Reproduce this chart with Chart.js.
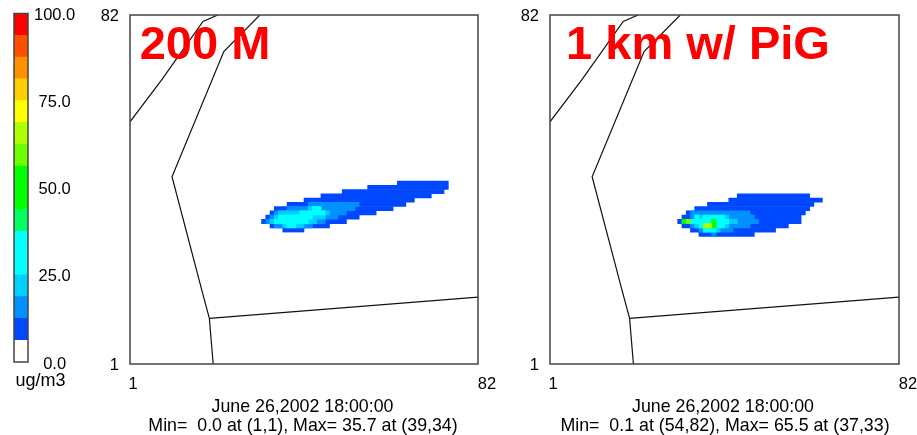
<!DOCTYPE html>
<html>
<head>
<meta charset="utf-8">
<script src="https://cdn.jsdelivr.net/npm/chart.js@4"></script>
<style>
  body { margin: 0; background: #fff; }
  canvas { position: absolute; top: 0; }
</style>
</head>
<body>
<canvas id="scaleBar" width="90" height="435" style="left:0"></canvas>
<canvas id="panel200" width="415" height="435" style="left:90px"></canvas>
<canvas id="panelPig" width="407" height="435" style="left:510px"></canvas>
<script>
// colour bar, bottom to top
const bandColors = ['#ffffff', '#0048ff', '#0090ff', '#00d0ff', '#00ffff', '#00ffff', '#00ff60', '#00ff00',
  '#00ff00', '#70ff00', '#b0ff00', '#ffff00', '#ffd000', '#ff9000', '#ff5000', '#ff0000'];
const bandSizes = [6.25, 6.25, 6.25, 6.25, 6.25, 6.25, 6.25, 6.25, 6.25, 6.25, 6.25, 6.25, 6.25, 6.25, 6.25, 6.25];
const scaleTicks = [0, 25, 50, 75, 100];
const scaleTickLabels = ['0.0', '25.0', '50.0', '75.0', '100.0'];
const gridTickLabels = ['1', '82'];

// grid cells as [band, row, first column, last column]
const plume200 = [
  [1, 43, 64, 75], [1, 42, 57, 75], [1, 41, 51, 74], [1, 40, 46, 71], [1, 39, 42, 67], [1, 38, 38, 65],
  [1, 37, 35, 62], [1, 36, 34, 58], [1, 35, 33, 54], [1, 34, 32, 51], [1, 33, 34, 47], [1, 32, 37, 41],
  [2, 38, 43, 54], [2, 37, 38, 53], [2, 36, 35, 51], [2, 35, 34, 49], [2, 34, 33, 46], [2, 33, 35, 43],
  [3, 37, 43, 45], [3, 36, 36, 47], [3, 35, 35, 46], [3, 34, 34, 44], [3, 33, 37, 41],
  [4, 37, 44, 45], [4, 36, 41, 46], [4, 35, 36, 43], [4, 34, 35, 42], [4, 33, 38, 39]
];
const plumePig = [
  [1, 40, 45, 61], [1, 39, 43, 64], [1, 38, 38, 62], [1, 37, 35, 61], [1, 36, 33, 60], [1, 35, 32, 59],
  [1, 34, 31, 59], [1, 33, 32, 56], [1, 32, 34, 53], [1, 31, 36, 48],
  [2, 36, 34, 47], [2, 35, 34, 48], [2, 34, 34, 49], [2, 33, 34, 47], [2, 32, 36, 43], [2, 31, 39, 39],
  [3, 35, 35, 42], [3, 34, 34, 44], [3, 33, 35, 42], [3, 32, 37, 40],
  [4, 35, 35, 35], [4, 35, 37, 41], [4, 34, 34, 42], [4, 33, 36, 41], [4, 32, 37, 39],
  [6, 34, 39, 39], [6, 33, 39, 39],
  [7, 34, 32, 32], [7, 34, 39, 39], [7, 33, 39, 39],
  [9, 34, 33, 33], [10, 33, 37, 38]
];

// map outlines in grid coordinates
const coastLine = [{x: 0.5, y: 57.4}, {x: 8, y: 67.3}, {x: 17.7, y: 81}, {x: 21.2, y: 82.5}];
const stateLine = [{x: 31.1, y: 82.5}, {x: 22.6, y: 73.9}, {x: 10.4, y: 44.5}, {x: 17.4, y: 17.9}, {x: 19.2, y: 11.2}, {x: 20.1, y: 0.5}];
const borderLine = [{x: 19.2, y: 11.2}, {x: 82.5, y: 16.2}];

// frame around the plot and the free text of each chart
const framePlugin = {
  id: 'frame',
  afterDraw(chart) {
    const a = chart.chartArea, ctx = chart.ctx;
    ctx.save();
    ctx.strokeStyle = '#444';
    ctx.lineWidth = 1.5;
    ctx.strokeRect(a.left, a.top, a.right - a.left, a.bottom - a.top);
    ctx.restore();
  }
};
const textPlugin = {
  id: 'panelText',
  afterDraw(chart, args, opts) {
    const ctx = chart.ctx;
    ctx.save();
    ctx.textAlign = 'center';
    ctx.textBaseline = 'middle';
    opts.items.forEach(t => {
      ctx.font = t.font;
      ctx.fillStyle = t.color || '#000';
      ctx.fillText(t.text, t.x, t.y);
    });
    ctx.restore();
  }
};

const labelFont = {family: '"Liberation Sans", Arial, sans-serif', size: 16.5};
const smallFont = '17.8px "Liberation Sans", Arial, sans-serif';
const titleFont = 'bold 47px "Liberation Sans", Arial, sans-serif';

// axis labels would otherwise push the plot area in
const noPad = s => { s.paddingTop = s.paddingBottom = s.paddingLeft = s.paddingRight = 0; };

const makePanel = (id, plume, rightPad, items) => {
  const usedBands = [...new Set(plume.map(c => c[0]))];
  const bars = usedBands.map(band => ({
    type: 'bar',
    indexAxis: 'y',
    order: 100 - band,
    backgroundColor: bandColors[band],
    borderWidth: 0,
    barPercentage: 1,
    categoryPercentage: 1,
    grouped: false,
    data: plume.filter(c => c[0] === band).map(c => ({y: c[1], x: [c[2] - 0.5, c[3] + 0.5]}))
  }));
  const lines = [coastLine, stateLine, borderLine].map(pts => ({
    type: 'scatter',
    indexAxis: 'x',
    order: 0,
    showLine: true,
    pointRadius: 0,
    borderColor: '#111',
    borderWidth: 1.2,
    data: pts
  }));
  const gridAxis = (tickValues, nudge, size) => ({
    type: 'linear',
    min: 0.5,
    max: 82.5,
    offset: false,
    grid: {display: false, offset: false, tickLength: 0},
    border: {display: false},
    afterBuildTicks: s => { s.ticks = tickValues.map(value => ({value})); },
    ticks: {
      autoSkip: false,
      maxRotation: 0,
      padding: 11,
      labelOffset: nudge,
      color: '#000',
      font: labelFont,
      callback: (v, i) => gridTickLabels[i]
    },
    afterFit: s => { noPad(s); size(s); }
  });
  return new Chart(document.getElementById(id), {
    type: 'bar',
    data: {datasets: lines.concat(bars)},
    plugins: [framePlugin, textPlugin],
    options: {
      responsive: false,
      animation: false,
      layout: {padding: {top: 15, right: rightPad, left: 0, bottom: 0}},
      scales: {
        x: gridAxis([1.2, 84.6], 0, s => { s.height = 71; }),
        y: gridAxis([0.5, 82.5], 1, s => { s.width = 40; })
      },
      plugins: {legend: {display: false}, tooltip: {enabled: false}, panelText: {items}}
    }
  });
};

// colour bar
new Chart(document.getElementById('scaleBar'), {
  type: 'bar',
  data: {
    labels: ['ug/m3'],
    datasets: bandSizes.map((v, i) => ({
      data: [v],
      backgroundColor: bandColors[i],
      borderWidth: 0,
      barPercentage: 1,
      categoryPercentage: 1
    }))
  },
  plugins: [framePlugin, textPlugin],
  options: {
    responsive: false,
    animation: false,
    layout: {padding: {top: 13.5, left: 14, right: 0, bottom: 0}},
    scales: {
      x: {stacked: true, display: true, grid: {display: false}, border: {display: false},
        ticks: {display: false}, afterFit: s => { noPad(s); s.height = 73; }},
      y: {
        stacked: true,
        position: 'right',
        min: 0,
        max: 100,
        grid: {display: false, tickLength: 0},
        border: {display: false},
        afterBuildTicks: s => { s.ticks = scaleTicks.map(value => ({value})); },
        ticks: {
          crossAlign: 'center',
          padding: 6,
          labelOffset: 2,
          color: '#000',
          font: labelFont,
          callback: (v, i) => scaleTickLabels[i]
        },
        afterFit: s => { noPad(s); s.width = 62; }
      }
    },
    plugins: {
      legend: {display: false},
      tooltip: {enabled: false},
      panelText: {items: [{text: 'ug/m3', x: 40.5, y: 381, font: '18px "Liberation Sans", Arial, sans-serif'}]}
    }
  }
});

makePanel('panel200', plume200, 27, [
  {text: '200 M', x: 115, y: 46, font: titleFont, color: '#ff0000'},
  {text: 'June 26,2002 18:00:00', x: 212.5, y: 407, font: smallFont},
  {text: 'Min=  0.0 at (1,1), Max= 35.7 at (39,34)', x: 213, y: 426, font: smallFont}
]);
makePanel('panelPig', plumePig, 18, [
  {text: '1 km w/ PiG', x: 188, y: 46, font: titleFont, color: '#ff0000'},
  {text: 'June 26,2002 18:00:00', x: 213, y: 407, font: smallFont},
  {text: 'Min=  0.1 at (54,82), Max= 65.5 at (37,33)', x: 215, y: 426, font: smallFont}
]);
</script>
</body>
</html>
